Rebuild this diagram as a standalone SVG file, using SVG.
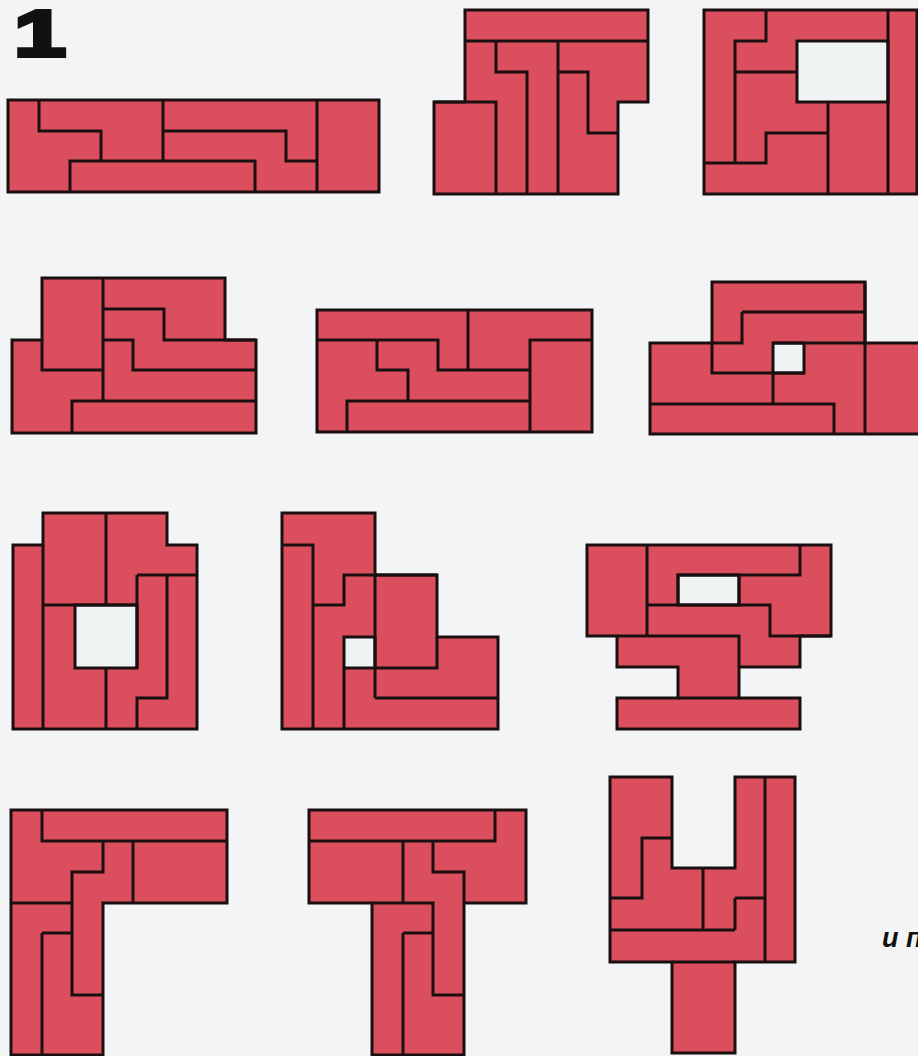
<svg xmlns="http://www.w3.org/2000/svg" width="918" height="1056" viewBox="0 0 918 1056">
<style>
.f{fill:#da4e5d;stroke:#1a0f11;stroke-width:3;stroke-linejoin:miter}
.h{fill:#f0f3f4;stroke:#1a0f11;stroke-width:3}
.l{fill:none;stroke:#1a0f11;stroke-width:3;stroke-linejoin:miter}
.num{font-family:"Liberation Sans",Arial,sans-serif;font-weight:bold;fill:#111}
</style>
<rect x="0" y="0" width="918" height="1056" fill="#f2f4f5"/>
<text class="num" x="0" y="0" font-size="64" text-anchor="middle" stroke="#111" stroke-width="4" transform="translate(40,56) scale(1.45,1)">1</text>
<text class="num" x="882" y="947" font-size="27" font-style="italic">и п</text>

<g id="figA">
<polygon class="f" points="8,100 379,100 379,192 8,192"/>
<path class="l" d="M39,100V131H101V161 M70,192V161H255V192 M163,100V161 M163,131H286V161H317 M317,100V192"/>
</g>

<g id="figB">
<polygon class="f" points="465,10 648,10 648,102 618,102 618,194 434,194 434,102 465,102"/>
<path class="l" d="M465,41H648 M496,41V72H527V194 M434,102H496V194 M558,41V194 M558,72H588V133H618"/>
</g>

<g id="figC">
<polygon class="f" points="704,10 917,10 917,194 704,194"/>
<rect class="h" x="797" y="41" width="91" height="61"/>
<path class="l" d="M766,10V41H735V163H704 M735,72H797 M704,163H766V133H828 M828,102V194 M888,10V194"/>
</g>

<g id="figD">
<polygon class="f" points="42,278 225,278 225,340 256,340 256,433 12,433 12,340 42,340"/>
<path class="l" d="M103,278V401 M42,340V370H103 M103,309H164V340H256 M103,340H133V370H256 M72,433V401H256"/>
</g>

<g id="figE">
<polygon class="f" points="317,310 592,310 592,432 317,432"/>
<path class="l" d="M317,340H438V370H530 M468,310V370 M530,432V340H592 M377,340V370H408V401 M347,432V401H530"/>
</g>

<g id="figF">
<polygon class="f" points="712,282 865,282 865,343 926,343 926,434 650,434 650,343 712,343"/>
<rect class="h" x="773" y="343" width="31" height="30"/>
<path class="l" d="M865,282V434 M742,312H865 M742,312V343H712 M773,343H865 M712,343V373H804 M773,373V404 M650,404H834V434"/>
</g>

<g id="figG">
<polygon class="f" points="43,513 167,513 167,545 197,545 197,729 13,729 13,545 43,545"/>
<rect class="h" x="75" y="605" width="62" height="63"/>
<path class="l" d="M43,545V729 M106,513V605 M43,605H137 M137,575H197 M137,575V668 M167,575V698H137V729 M106,668V729"/>
</g>

<g id="figH">
<polygon class="f" points="282,513 375,513 375,575 437,575 437,637 498,637 498,729 282,729"/>
<rect class="h" x="344" y="637" width="31" height="31"/>
<path class="l" d="M282,545H313V729 M313,605H344V575H437 M375,575V698 M375,668H437V637 M344,668V729 M375,698H498"/>
</g>

<g id="figI">
<polygon class="f" points="587,545 831,545 831,636 800,636 800,667 739,667 739,698 800,698 800,729 617,729 617,698 678,698 678,667 617,667 617,636 587,636"/>
<rect class="h" x="678" y="575" width="61" height="30"/>
<path class="l" d="M647,545V636 M647,605H678V575H800V545 M739,575V605 M647,605H770V636H831 M617,636H739V667 M678,698H739"/>
</g>

<g id="figJ">
<polygon class="f" points="11,810 227,810 227,903 103,903 103,1055 11,1055"/>
<path class="l" d="M42,810V841H227 M103,841V872H72V995H103 M11,903H72 M133,841V903 M42,933H72 M42,933V1055"/>
</g>

<g id="figK">
<polygon class="f" points="309,810 526,810 526,903 464,903 464,1055 372,1055 372,903 309,903"/>
<path class="l" d="M309,841H495V810 M403,841V903 M433,841V872H464V903 M372,903H433V995H464 M403,933H433 M403,933V1055"/>
</g>

<g id="figL">
<polygon class="f" points="610,777 672,777 672,868 735,868 735,777 795,777 795,962 735,962 735,1053 672,1053 672,962 610,962"/>
<path class="l" d="M672,838H642V898H610 M703,868V930 M765,777V962 M735,898H765 M735,898V930 M610,930H735 M672,962H735"/>
</g>
</svg>
